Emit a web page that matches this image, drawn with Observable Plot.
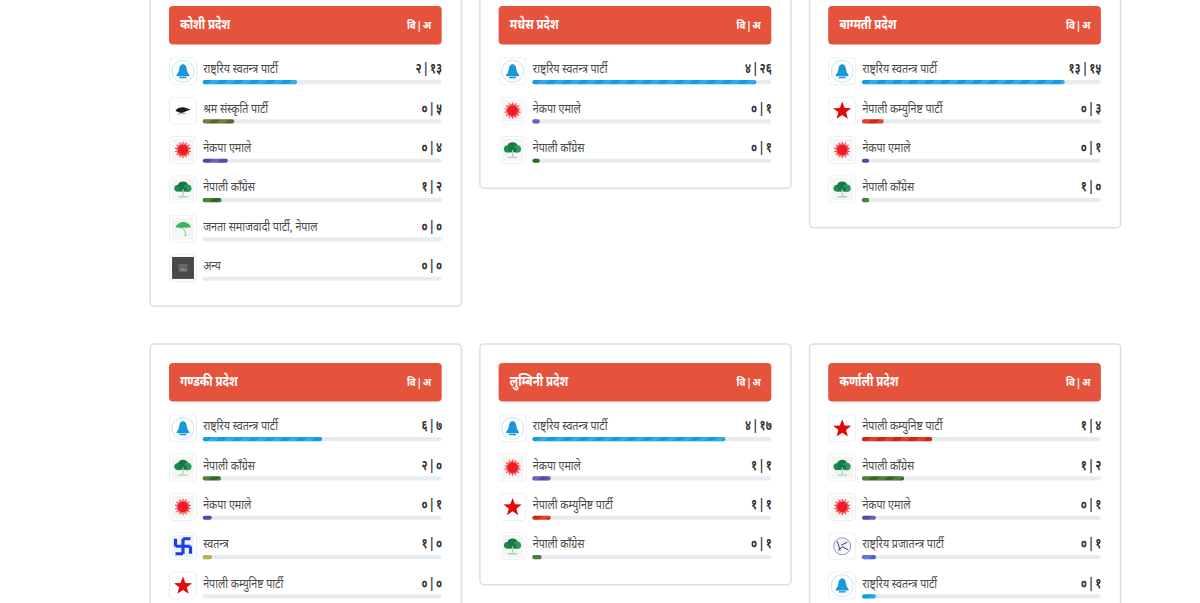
<!DOCTYPE html>
<html lang="ne">
<head>
<meta charset="utf-8">
<script src="https://cdn.jsdelivr.net/npm/d3@7"></script>
<script src="https://cdn.jsdelivr.net/npm/@observablehq/plot@0.6"></script>
<style>
html,body{margin:0;padding:0;background:#fff;overflow:hidden;width:1200px;height:603px}
svg{display:block}
.tight text{word-spacing:-2px}
</style>
</head>
<body>
<div id="chart"></div>
<script>
const provinces = ["कोशी प्रदेश","मधेस प्रदेश","बाग्मती प्रदेश","गण्डकी प्रदेश","लुम्बिनी प्रदेश","कर्णाली प्रदेश"];
const seatTotals = [38, 32, 33, 26, 26, 17];
const RSP="राष्ट्रिय स्वतन्त्र पार्टी", SHRAM="श्रम संस्कृति पार्टी", UML="नेकपा एमाले", NC="नेपाली काँग्रेस",
      JSP="जनता समाजवादी पार्टी, नेपाल", OTHER="अन्य", NCP="नेपाली कम्युनिष्ट पार्टी", IND="स्वतन्त्र", RPP="राष्ट्रिय प्रजातन्त्र पार्टी";
const parties = [
  [RSP,SHRAM,UML,NC,JSP,OTHER],
  [RSP,UML,NC],
  [RSP,NCP,UML,NC],
  [RSP,NC,UML,IND,NCP],
  [RSP,UML,NCP,NC],
  [NCP,NC,UML,RPP,RSP]
];
const wins = [
  [2,0,0,1,0,0],
  [4,0,0],
  [13,0,0,1],
  [6,2,0,1,0],
  [4,1,1,0],
  [1,1,0,0,0]
];
const leads = [
  [13,5,4,2,0,0],
  [26,1,1],
  [15,3,1,0],
  [7,0,1,0,0],
  [17,1,1,1],
  [4,2,1,1,1]
];
const partyColors = new Map([[RSP,"#0f9ee0"],[SHRAM,"#5c6426"],[UML,"#5a45ad"],[NC,"#2f6a1c"],[JSP,"#43a047"],[OTHER,"#555555"],[NCP,"#d8220c"],[IND,"#b5a235"],[RPP,"#4a5fd0"]]);
const headerRight = "वि | अ";

const deva = n => String(n).replace(/\d/g, d => "०१२३४५६७८९"[d]);
const uri = body => "data:image/svg+xml," + encodeURIComponent(`<svg xmlns="http://www.w3.org/2000/svg" width="28" height="28" viewBox="0 0 28 28">${body}</svg>`);
const frame = (inner, bg="#fff") => uri(`<rect x=".5" y=".5" width="27" height="27" rx="4" fill="#fff" stroke="#ebedf0"/><rect x="3" y="3" width="22" height="22" fill="${bg}"/>${inner}`);
const rays = d3.range(28).map(i => { const a=i/28*2*Math.PI, r=i%2?8.2:6.6; return `<line x1="14" y1="14" x2="${14+r*Math.cos(a)}" y2="${14+r*Math.sin(a)}" stroke="#fb4a50" stroke-width="1.2"/>`; }).join("");
const logos = new Map([
  [RSP, frame(`<circle cx="14" cy="14" r="11" fill="#fff" stroke="#bfe6f5"/><path d="M14 7c2.600 0 3.400 2.400 3.800 5 .4 2.500 1.200 4.200 2.600 5.500v1.500H7.600v-1.500c1.400-1.300 2.200-3 2.600-5.500.4-2.600 1.200-5 3.800-5z" fill="#1a97d8"/><rect x="10.500" y="19.500" width="7" height="1.500" fill="#1a97d8"/>`)],
  [SHRAM, frame(`<path d="M6.500 14c2-2.800 6-3.800 9-3 2 .5 4 1.400 6 2.200-2 .8-4.500 1-5.500 2-1.500.9-3 1.400-5 1-1.800-.3-3.500-1.200-4.500-2.200z" fill="#1c1c1c"/><path d="M8 17.500l9-.6" stroke="#aaa" stroke-width="1"/>`)],
  [UML, frame(rays + `<circle cx="14" cy="14" r="5.200" fill="#ee1c25"/>`, "#f5f5f5")],
  [NC, frame(`<ellipse cx="9.500" cy="13" rx="4.200" ry="3.600" fill="#1d8a50"/><ellipse cx="14" cy="10" rx="5" ry="3.800" fill="#167a44"/><ellipse cx="18.500" cy="13" rx="4" ry="3.800" fill="#2c9a60"/><ellipse cx="14" cy="14" rx="4" ry="2.500" fill="#167a44"/><path d="M14 14v6.500M9.500 21.500h9" stroke="#a9d3ba" stroke-width="1.300"/>`, "#f5f5f5")],
  [JSP, frame(`<path d="M6.500 13c1.500-4.500 6-6 9-5.500 3.500.5 6 3 6.500 5.800-1.800-1-3.300-1-4.500.2-1.500-1-3.200-1-4.700.3-2-1-4-1-6.300-.8z" fill="#3eb45c"/><path d="M14 12.500l3 7.500c.3 1-1 1.500-1.700.6" stroke="#8fd6a0" stroke-width="1.100" fill="none"/>`, "#f5f5f5")],
  [OTHER, uri(`<rect x=".5" y=".5" width="27" height="27" rx="4" fill="#fff" stroke="#ebedf0"/><rect x="3" y="3" width="22" height="22" fill="#4a4a4a"/><rect x="9.500" y="10" width="9" height="8" fill="#666"/><path d="M11 16.500l2.500-3 2 2 1-1 1 2z" fill="#8a8a8a"/>`)],
  [NCP, frame(`<path d="M14 5l2.400 6.300 6.700.3-5.300 4.100 1.900 6.500L14 18.400l-5.700 3.800 1.900-6.500-5.300-4.100 6.700-.3z" fill="#e00a0a"/>`)],
  [IND, frame(`<path d="M14 6.500v15M6.500 14h15M14 6.500h7.500M21.500 14v7.500M14 21.500H6.500M6.500 14V6.500" stroke="#1a3fe8" stroke-width="3.200" fill="none"/>`, "#f3f4fa")],
  [RPP, frame(`<circle cx="14" cy="14" r="8.500" fill="#f4f5fa" stroke="#8e96ad"/><path d="M9 9l3 9M10 18l4-3.500 6 3M13 13l6-3" stroke="#2c3a72" stroke-width="1" fill="none"/>`)]
]);

const rows = provinces.flatMap((province, p) => parties[p].map((party, i) => ({
  col: p % 3, grid: Math.floor(p / 3), i, party,
  share: (wins[p][i] + leads[p][i]) / seatTotals[p],
  label: `${deva(wins[p][i])} | ${deva(leads[p][i])}`
})));
const cards = provinces.map((province, p) => ({ province, col: p % 3, grid: Math.floor(p / 3), n: parties[p].length }));

const font = "'Noto Sans', sans-serif";
const chart = Plot.plot({
  width: 1200, height: 603,
  marginTop: 0, marginRight: 0, marginBottom: 0, marginLeft: 0,
  style: {background: "#fff", fontFamily: font},
  fx: {axis: null, domain: [0,1,2], range: [202.7, 1101], padding: 0.2746, round: false},
  fy: {axis: null, domain: [0,1], range: [57, 650], padding: 0.3389, round: false},
  x: {axis: null, domain: [0,1], range: [0,239]},
  y: {axis: null, domain: [0,6], range: [0,236]},
  marks: [
    Plot.rect(cards, {fx:"col", fy:"grid", x1:()=>0, x2:()=>1, y1:()=>-1.78, y2:d=>d.n+0.34,
      insetLeft:-52.4, insetRight:-19.7, rx:4, fill:"#fff", stroke:"#dcdee1", strokeWidth:1.5}),
    Plot.rect(cards, {fx:"col", fy:"grid", x1:()=>0, x2:()=>1, y1:()=>-1.297, y2:()=>-0.318,
      insetLeft:-33.7, rx:4, fill:"#e5533d"}),
    Plot.text(cards, {className:"sq-header", fx:"col", fy:"grid", x:()=>0, y:()=>-0.84, text:"province", textAnchor:"start", dx:-23,
      fill:"#fff", fontWeight:700, fontSize:14.5}),
    Plot.text(cards, {className:"tight sq-small", fx:"col", fy:"grid", x:()=>1, y:()=>-0.82, text:()=>headerRight, textAnchor:"end", dx:-11,
      fill:"#fff", fontWeight:700, fontSize:11}),
    Plot.rect(rows, {fx:"col", fy:"grid", x1:()=>0, x2:()=>1, y1:d=>d.i+0.585, y2:d=>d.i+0.69, rx:2, fill:"#e9ecef"}),
    Plot.rect(rows.filter(d=>d.share>0), {fx:"col", fy:"grid", x1:()=>0, x2:"share", y1:d=>d.i+0.585, y2:d=>d.i+0.69, rx:2, fill:d=>partyColors.get(d.party)}),
    Plot.rect(rows.filter(d=>d.share>0), {fx:"col", fy:"grid", x1:()=>0, x2:"share", y1:d=>d.i+0.585, y2:d=>d.i+0.69, rx:2, fill:()=>"url(#stripes)"}),
    Plot.image(rows, {fx:"col", fy:"grid", x:()=>0, y:d=>d.i+0.35, src:d=>logos.get(d.party), width:28, height:28, dx:-20.2}),
    Plot.text(rows, {className:"sq-name", fx:"col", fy:"grid", x:()=>0, y:d=>d.i+0.3, text:"party", textAnchor:"start", fill:"#4a4a4a", fontSize:12.5}),
    Plot.text(rows, {className:"tight sq-value", fx:"col", fy:"grid", x:()=>1, y:d=>d.i+0.29, text:"label", textAnchor:"end", fill:"#333", fontWeight:700, fontSize:13.5})
  ]
});
// horizontal squeeze of the text: the reference face is narrower than the installed Devanagari one
for (const [cls, k] of [["sq-header",0.79],["sq-small",0.9],["sq-name",0.855],["sq-value",0.81]]) {
  chart.querySelectorAll(`.${cls} text`).forEach(t => t.setAttribute("transform", `${t.getAttribute("transform")||""} scale(${k},1)`));
}
const defs = document.createElementNS("http://www.w3.org/2000/svg","defs");
defs.innerHTML = `<pattern id="stripes" patternUnits="userSpaceOnUse" width="11.3" height="11.3" patternTransform="rotate(45)"><rect width="5.65" height="11.3" fill="#fff" fill-opacity="0.15"/></pattern>`;
chart.prepend(defs);
document.getElementById("chart").append(chart);
</script>
</body>
</html>
